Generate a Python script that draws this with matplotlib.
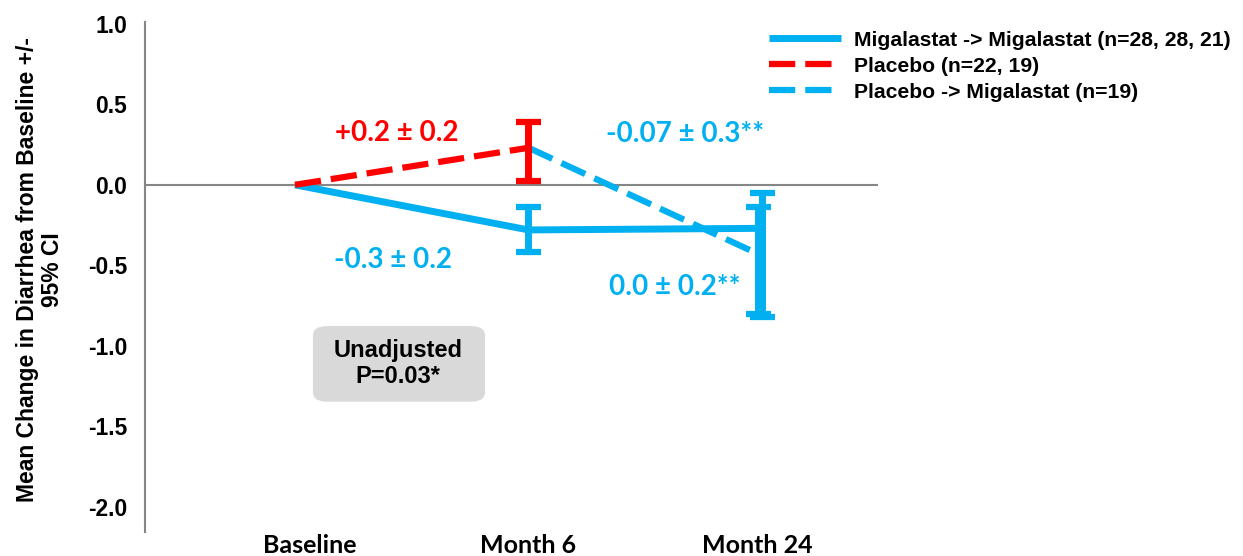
import matplotlib.pyplot as plt
from matplotlib.lines import Line2D
from matplotlib.patches import FancyBboxPatch
from matplotlib.transforms import blended_transform_factory

plt.rcParams["font.family"] = ["Liberation Sans", "DejaVu Sans"]
plt.rcParams["font.weight"] = "bold"

BLUE = "#00B0F0"
RED = "#FF0000"
GREY = "#868686"

visits = ["Baseline", "Month 6", "Month 24"]
visit_label_x = [0.064, 1.0, 1.98]

# Migalastat -> Migalastat (all three visits)
mig_mean = [0.0, -0.28, -0.27]
mig_lo = [None, -0.42, -0.82]
mig_hi = [None, -0.14, -0.05]

# Placebo (baseline to month 6)
pbo_mean = [0.0, 0.23]
pbo_lo = [None, 0.025]
pbo_hi = [None, 0.39]

# Placebo -> Migalastat (month 6 to month 24)
switch_mean = [0.23, -0.42]
switch_lo = [None, -0.80]
switch_hi = [None, -0.14]

labels = ["+0.2 \u00b1 0.2", "-0.07 \u00b1 0.3**", "-0.3 \u00b1 0.2", "0.0 \u00b1 0.2**"]
legend_names = [
    "Migalastat -> Migalastat (n=28, 28, 21)",
    "Placebo (n=22, 19)",
    "Placebo -> Migalastat (n=19)",
]
yticks = [1.0, 0.5, 0.0, -0.5, -1.0, -1.5, -2.0]

DASH = (0, (4.2, 1.6))


def err(mean, lo, hi):
    return [[m - l for m, l in zip(mean, lo)], [h - m for m, h in zip(mean, hi)]]


fig = plt.figure(figsize=(12.43, 5.56), dpi=100)
ax = fig.add_axes([0.1167, 0.0432, 0.5897, 0.917])

ax.axhline(0, color=GREY, lw=1.5, zorder=1)

# lines
ax.plot([0, 1, 2], mig_mean, color=BLUE, lw=5, solid_capstyle="butt", zorder=3)
ax.plot([0, 1], pbo_mean, color=RED, lw=4.5, linestyle=DASH, zorder=4)
ax.plot([1, 1.97], switch_mean, color=BLUE, lw=4.5, linestyle=DASH, zorder=4)

ebar = dict(fmt="none", elinewidth=5, capsize=9, capthick=4.5)
ax.errorbar([1, 2], mig_mean[1:], yerr=err(mig_mean[1:], mig_lo[1:], mig_hi[1:]),
            ecolor=BLUE, zorder=5, **ebar)
ax.errorbar([1.985], switch_mean[1:], yerr=err(switch_mean[1:], switch_lo[1:], switch_hi[1:]),
            ecolor=BLUE, zorder=5, **ebar)
ax.errorbar([1], pbo_mean[1:], yerr=err(pbo_mean[1:], pbo_lo[1:], pbo_hi[1:]),
            ecolor=RED, zorder=5, **ebar)

# value annotations
lab_font = dict(family=["Lato", "DejaVu Sans"], fontsize=20, fontweight="bold",
                ha="center", va="center")
ax.text(0.437, 0.323, labels[0], color=RED, **lab_font)
ax.text(1.67, 0.317, labels[1], color=BLUE, **lab_font)
ax.text(0.42, -0.466, labels[2], color=BLUE, **lab_font)
ax.text(1.627, -0.634, labels[3], color=BLUE, **lab_font)

# p-value box
box = FancyBboxPatch((0.127, -1.296), 0.637, 0.369,
                     boxstyle="round,pad=0.05,rounding_size=0.06",
                     facecolor="#D9D9D9", edgecolor="none", zorder=2)
ax.add_patch(box)
ax.text(0.44, -1.11, "Unadjusted\nP=0.03*", ha="center", va="center",
        fontsize=17, fontweight="bold", linespacing=1.2, zorder=3)

ax.set_xlim(-0.642, 2.497)
ax.set_ylim(-2.155, 1.01)
ax.set_yticks(yticks)
ax.set_yticklabels([f"{v:.1f}" for v in yticks])
ax.set_xticks([])
ax.tick_params(axis="y", length=0, pad=13, labelsize=16.5)

# visit names sit right at the bottom edge of the figure
trans = blended_transform_factory(ax.transData, fig.transFigure)
for xv, name in zip(visit_label_x, visits):
    ax.text(xv, 3 / 556, name, transform=trans, ha="center", va="baseline",
            family=["Lato", "DejaVu Sans"], fontsize=18, fontweight="bold", clip_on=False)

for side in ["top", "right", "bottom"]:
    ax.spines[side].set_visible(False)
ax.spines["left"].set_color(GREY)
ax.spines["left"].set_linewidth(1.5)

ax.set_ylabel("Mean Change in Diarrhea from Baseline +/-\n95% CI", fontsize=16.5,
              fontweight="bold", linespacing=1.15)
ax.yaxis.set_label_coords(-0.11, 0.514)

handles = [
    Line2D([], [], color=BLUE, lw=5, solid_capstyle="butt"),
    Line2D([], [], color=RED, lw=4.5, linestyle=DASH),
    Line2D([], [], color=BLUE, lw=4.5, linestyle=DASH),
]
fig.legend(handles, legend_names, loc="upper left", bbox_to_anchor=(0.619, 0.945),
           frameon=False, fontsize=15.2, handlelength=3.4, handletextpad=0.6,
           labelspacing=0.33, borderpad=0, borderaxespad=0)

fig.savefig("out.png", dpi=100)
